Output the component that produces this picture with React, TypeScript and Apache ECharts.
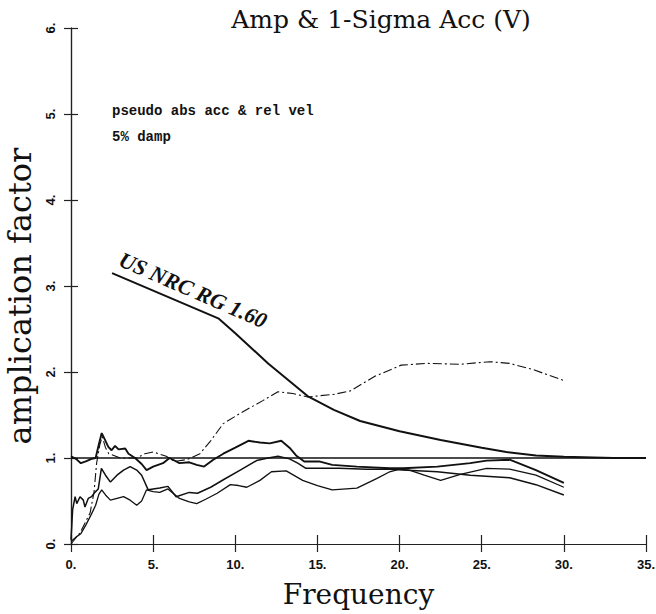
import React, { useEffect, useRef } from "react";
import * as echarts from "echarts";

const titleText = "Amp & 1-Sigma Acc (V)";
const xName = "Frequency";
const yName = "amplication factor";
const noteLine1 = "pseudo abs acc & rel vel";
const noteLine2 = "5% damp";
const rgLabel = "US NRC RG 1.60";

const xTickLabels = ["0.", "5.", "10.", "15.", "20.", "25.", "30.", "35."];
const yTickLabels = ["0.", "1.", "2.", "3.", "4.", "5.", "6."];

const unityFreq = [0, 35];
const unityVal = [1, 1];

const rgFreq = [2.5, 9.0, 10.0, 12.0, 14.4, 16.0, 17.6, 20.0, 22.5, 25.0, 26.5, 28.3, 30.0, 33.0, 35.0];
const rgVal = [3.15, 2.62, 2.45, 2.1, 1.72, 1.56, 1.43, 1.31, 1.21, 1.12, 1.07, 1.03, 1.015, 1.0, 1.0];

const s1Freq = [0, 0.3, 0.6, 0.9, 1.25, 1.5, 1.66, 1.87, 2.07, 2.27, 2.47, 2.68, 2.9, 3.3, 3.5, 3.9, 4.3, 4.6, 5.0, 5.6, 6.0, 6.6, 7.2, 7.65, 8.1, 8.66, 9.27, 10.0, 10.8, 11.5, 12.1, 12.8, 13.3, 13.7, 14.2, 15.1, 15.9, 17.4, 19.4, 20.2, 22.3, 24.3, 25.3, 26.7, 28.3, 30];
const s1Val = [1.02, 0.99, 0.94, 0.96, 0.99, 1.0, 1.13, 1.29, 1.21, 1.13, 1.09, 1.14, 1.1, 1.11, 1.05, 1.0, 0.93, 0.86, 0.9, 0.94, 1.0, 0.94, 0.95, 0.92, 0.9, 0.98, 1.05, 1.12, 1.2, 1.18, 1.17, 1.2, 1.12, 1.03, 0.96, 0.96, 0.92, 0.9, 0.88, 0.88, 0.9, 0.94, 0.97, 0.98, 0.86, 0.71];

const s2Freq = [0, 0.1, 0.25, 0.35, 0.55, 0.75, 0.85, 1.05, 1.25, 1.45, 1.66, 1.85, 2.1, 2.4, 2.8, 3.2, 3.6, 4.0, 4.3, 4.7, 5.4, 5.9, 6.4, 7.2, 7.7, 8.5, 9.3, 10.3, 11.3, 12.0, 12.6, 13.3, 13.8, 14.3, 15.3, 16.3, 18.0, 19.4, 20.2, 22.3, 24.3, 26.7, 28.3, 30];
const s2Val = [0.05, 0.4, 0.55, 0.47, 0.55, 0.51, 0.43, 0.53, 0.55, 0.6, 0.64, 0.88, 0.8, 0.72, 0.8, 0.86, 0.9, 0.86, 0.8, 0.63, 0.65, 0.67, 0.55, 0.6, 0.59, 0.66, 0.75, 0.86, 0.97, 1.0, 1.02, 0.99, 0.94, 0.88, 0.88, 0.88, 0.87, 0.87, 0.86, 0.84, 0.8, 0.77, 0.69, 0.57];

const s3Freq = [0, 0.3, 0.6, 0.9, 1.25, 1.5, 1.7, 1.87, 2.1, 2.4, 2.8, 3.2, 3.6, 4.0, 4.3, 4.6, 5.0, 5.4, 5.9, 6.6, 7.2, 7.65, 8.2, 8.9, 9.7, 10.2, 10.7, 11.5, 12.2, 13.1, 14.1, 15.0, 15.9, 17.4, 18.6, 19.4, 20.0, 20.6, 21.5, 22.5, 23.7, 25.3, 26.7, 28.3, 30];
const s3Val = [0.03, 0.08, 0.12, 0.22, 0.35, 0.45, 0.58, 0.63, 0.57, 0.51, 0.53, 0.55, 0.51, 0.45, 0.5, 0.63, 0.61, 0.6, 0.64, 0.53, 0.49, 0.47, 0.52, 0.59, 0.69, 0.68, 0.66, 0.74, 0.84, 0.85, 0.74, 0.68, 0.63, 0.65, 0.76, 0.84, 0.87, 0.86, 0.8, 0.74, 0.81, 0.88, 0.87, 0.8, 0.66];

const dFreq = [0, 0.55, 1.16, 1.4, 1.56, 1.75, 1.9, 2.1, 2.3, 3.0, 4.0, 4.5, 5.0, 5.8, 6.3, 7.0, 7.3, 7.85, 8.5, 9.27, 10.3, 11.7, 12.6, 13.5, 14.4, 16.0, 17.0, 18.5, 20.1, 21.7, 23.7, 25.5, 26.7, 28.1, 30];
const dVal = [0, 0.13, 0.36, 0.6, 0.94, 1.15, 1.25, 1.12, 1.05, 1.0, 1.0, 1.05, 1.07, 1.02, 0.96, 0.98, 1.0, 1.05, 1.2, 1.4, 1.52, 1.67, 1.77, 1.75, 1.71, 1.74, 1.78, 1.95, 2.08, 2.1, 2.09, 2.12, 2.1, 2.03, 1.9];

const zip = (f: number[], v: number[]) => f.map((x, i) => [x, v[i]]);

const INK = "#111";

function lineSeries(name: string, data: number[][], width: number, type: any = "solid") {
  return {
    name,
    type: "line",
    data,
    showSymbol: false,
    symbol: "none",
    silent: true,
    lineStyle: { color: INK, width, type },
    xAxisIndex: 0,
    yAxisIndex: 0,
  };
}

export default function App() {
  const ref = useRef<HTMLDivElement>(null);
  useEffect(() => {
    if (!ref.current) return;
    const chart = echarts.init(ref.current, null, { renderer: "svg" });
    const frameLine = { show: true, lineStyle: { color: "#222", width: 1.2 } };
    chart.setOption({
      animation: false,
      backgroundColor: "#fff",
      title: {
        text: titleText,
        left: 376,
        top: 2,
        textAlign: "center",
        textStyle: { fontFamily: "DejaVu Serif", fontSize: 25, fontWeight: "normal", color: INK },
      },
      grid: { left: 71, right: 10, top: 28, bottom: 70, containLabel: false, outerBoundsMode: "none" },
      xAxis: [
        {
          type: "value",
          min: 0,
          max: 35,
          interval: 5,
          position: "bottom",
          axisLine: frameLine,
          axisTick: { show: true, inside: true, length: 9, lineStyle: { color: "#222", width: 1.2 } },
          splitLine: { show: false },
          axisLabel: {
            margin: 14,
            fontFamily: "Liberation Sans",
            fontWeight: "bold",
            fontSize: 13,
            color: INK,
            formatter: (v: number) => xTickLabels[Math.round(v / 5)] ?? "",
          },
          name: xName,
          nameLocation: "middle",
          nameGap: 36,
          nameTextStyle: { fontFamily: "DejaVu Serif", fontSize: 28, color: INK },
        },
        {
          type: "value",
          min: 0,
          max: 35,
          interval: 5,
          position: "top",
          axisLine: frameLine,
          axisTick: { show: true, inside: true, length: 8, lineStyle: { color: "#222", width: 1.2 } },
          splitLine: { show: false },
          axisLabel: { show: false },
        },
      ],
      yAxis: [
        {
          type: "value",
          min: 0,
          max: 6,
          interval: 1,
          position: "left",
          axisLine: frameLine,
          axisTick: { show: true, inside: true, length: 7, lineStyle: { color: "#222", width: 1.2 } },
          splitLine: { show: false },
          axisLabel: {
            rotate: 90,
            margin: 14,
            fontFamily: "Liberation Sans",
            fontWeight: "bold",
            fontSize: 13,
            color: INK,
            formatter: (v: number) => yTickLabels[Math.round(v)] ?? "",
          },
        },
        {
          type: "value",
          min: 0,
          max: 6,
          interval: 1,
          position: "right",
          axisLine: frameLine,
          axisTick: { show: true, inside: true, length: 7, lineStyle: { color: "#222", width: 1.2 } },
          splitLine: { show: false },
          axisLabel: { show: false },
        },
      ],
      series: [
        lineSeries("unity", zip(unityFreq, unityVal), 1.4),
        lineSeries("US NRC RG 1.60", zip(rgFreq, rgVal), 2),
        lineSeries("mean + sigma", zip(dFreq, dVal), 1.1, [9, 3, 2, 3]),
        lineSeries("curve 1", zip(s1Freq, s1Val), 1.9),
        lineSeries("curve 2", zip(s2Freq, s2Val), 1.5),
        lineSeries("curve 3", zip(s3Freq, s3Val), 1.3),
      ],
      graphic: [
        {
          type: "text",
          x: 20,
          y: 296,
          rotation: Math.PI / 2,
          style: {
            text: yName,
            fontFamily: "DejaVu Serif",
            fontSize: 32,
            fill: INK,
            align: "center",
            verticalAlign: "middle",
          },
        },
        {
          type: "text",
          x: 112,
          y: 111,
          style: {
            text: noteLine1,
            fontFamily: "Liberation Mono",
            fontWeight: "bold",
            fontSize: 14,
            fill: INK,
            align: "left",
            verticalAlign: "middle",
          },
        },
        {
          type: "text",
          x: 112,
          y: 137,
          style: {
            text: noteLine2,
            fontFamily: "Liberation Mono",
            fontWeight: "bold",
            fontSize: 14,
            fill: INK,
            align: "left",
            verticalAlign: "middle",
          },
        },
        {
          type: "text",
          x: 193,
          y: 290,
          rotation: -0.41,
          style: {
            text: rgLabel,
            fontFamily: "Liberation Serif",
            fontWeight: "bold",
            fontStyle: "italic",
            fontSize: 22,
            fill: INK,
            align: "center",
            verticalAlign: "middle",
          },
        },
      ],
    });
    return () => chart.dispose();
  }, []);
  return (
    <div
      ref={ref}
      style={{ position: "fixed", left: 0, top: 0, width: 656, height: 614, background: "#fff" }}
    />
  );
}
